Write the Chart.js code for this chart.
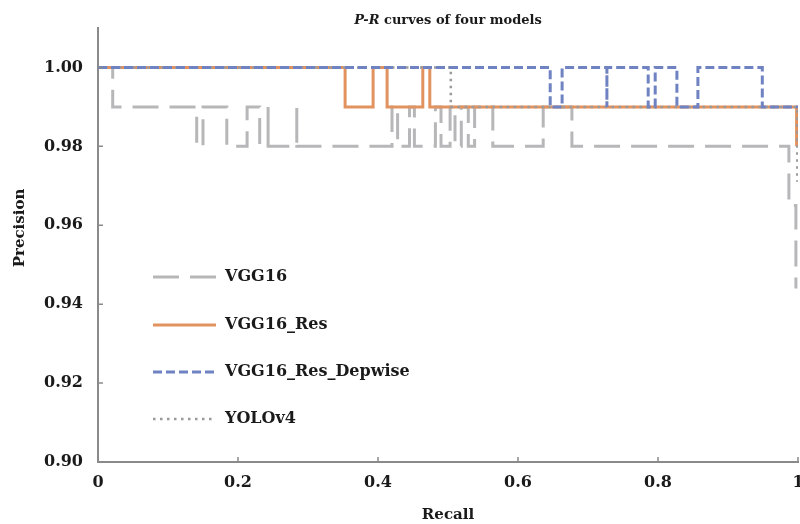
<!DOCTYPE html>
<html>
<head>
<meta charset="utf-8">
<script src="https://cdn.jsdelivr.net/npm/chart.js@4"></script>
<style>
  html, body { margin: 0; padding: 0; background: #fff; }
  #wrap { width: 800px; height: 524px; }
</style>
</head>
<body>
<div id="wrap"><canvas id="myChart" width="800" height="524"></canvas></div>
<script>
// P-R step curves (recall, precision corner points)
const vggRecall = [0, 0.021, 0.021, 0.141, 0.141, 0.150, 0.150, 0.184, 0.184, 0.213, 0.213, 0.231, 0.231, 0.243, 0.243, 0.243,
  0.284, 0.284, 0.284, 0.420, 0.420, 0.428, 0.428, 0.445, 0.445, 0.452, 0.452, 0.482, 0.482, 0.490, 0.490,
  0.503, 0.503, 0.510, 0.510, 0.519, 0.519, 0.529, 0.529, 0.538, 0.538, 0.564, 0.564, 0.636, 0.636, 0.677, 0.677,
  0.987, 0.987, 0.997, 0.997]
const vggPrec = [1.00, 1.00, 0.99, 0.99, 0.98, 0.98, 0.99, 0.99, 0.98, 0.98, 0.99, 0.99, 0.98, 0.98, 0.99, 0.98,
  0.98, 0.99, 0.98, 0.98, 0.99, 0.99, 0.98, 0.98, 0.99, 0.99, 0.98, 0.98, 0.99, 0.99, 0.98,
  0.98, 0.99, 0.99, 0.98, 0.98, 0.99, 0.99, 0.98, 0.98, 0.99, 0.99, 0.98, 0.98, 0.99, 0.99, 0.98,
  0.98, 0.965, 0.965, 0.944]

const resRecall = [0, 0.353, 0.353, 0.393, 0.393, 0.413, 0.413, 0.464, 0.464, 0.474, 0.474, 0.998, 0.998]
const resPrec = [1.00, 1.00, 0.99, 0.99, 1.00, 1.00, 0.99, 0.99, 1.00, 1.00, 0.99, 0.99, 0.98]

const depRecall = [0, 0.646, 0.646, 0.663, 0.663, 0.727, 0.727, 0.727, 0.786, 0.786, 0.796, 0.796, 0.827, 0.827, 0.857, 0.857, 0.949, 0.949, 1.0]
const depPrec = [1.00, 1.00, 0.99, 0.99, 1.00, 1.00, 0.99, 1.00, 1.00, 0.99, 0.99, 1.00, 1.00, 0.99, 0.99, 1.00, 1.00, 0.99, 0.99]

const yoloRecall = [0, 0.504, 0.504, 0.999, 0.999]
const yoloPrec = [1.00, 1.00, 0.99, 0.99, 0.971]

const modelNames = ['VGG16', 'VGG16_Res', 'VGG16_Res_Depwise', 'YOLOv4']
const xTicks = [0, 0.2, 0.4, 0.6, 0.8, 1]
const yTicks = [0.90, 0.92, 0.94, 0.96, 0.98, 1.00]

const FONT = '"DejaVu Serif", serif'

const toPoints = (xs, ys) => xs.map((x, i) => ({ x: x, y: ys[i] }))

const dataConfig = {
  datasets: [{
    label: modelNames[0],
    data: toPoints(vggRecall, vggPrec),
    borderColor: '#b7b7b9',
    borderWidth: 3,
    borderDash: [26, 11],
    order: 4
  }, {
    label: modelNames[1],
    data: toPoints(resRecall, resPrec),
    borderColor: '#e2925f',
    borderWidth: 3,
    order: 3
  }, {
    label: modelNames[2],
    data: toPoints(depRecall, depPrec),
    borderColor: '#6f82c1',
    borderWidth: 3,
    borderDash: [9, 4],
    order: 1
  }, {
    label: modelNames[3],
    data: toPoints(yoloRecall, yoloPrec),
    borderColor: '#9a9a9c',
    borderWidth: 2.5,
    borderDash: [2.5, 4.5],
    order: 2
  }]
}

// title, y title, legend and inner tick marks
const decorations = {
  id: 'decorations',
  afterDraw(chart) {
    const ctx = chart.ctx
    const area = chart.chartArea
    const sx = chart.scales.x
    const sy = chart.scales.y
    ctx.save()

    // inward tick marks
    ctx.strokeStyle = '#8a8a8a'
    ctx.lineWidth = 1.5
    ctx.beginPath()
    xTicks.forEach(v => {
      const px = sx.getPixelForValue(v)
      ctx.moveTo(px, area.bottom)
      ctx.lineTo(px, area.bottom - 5)
    })
    yTicks.forEach(v => {
      const py = sy.getPixelForValue(v)
      ctx.moveTo(area.left, py)
      ctx.lineTo(area.left + 5, py)
    })
    ctx.stroke()

    ctx.fillStyle = '#1a1a1a'
    ctx.textBaseline = 'middle'

    // chart title, with italic P-R
    const cx = (area.left + area.right) / 2
    const part1 = 'P-R'
    const part2 = ' curves of four models'
    ctx.font = 'italic bold 13px ' + FONT
    const w1 = ctx.measureText(part1).width
    ctx.font = 'bold 13px ' + FONT
    const w2 = ctx.measureText(part2).width
    const start = cx - (w1 + w2) / 2
    ctx.textAlign = 'left'
    ctx.font = 'italic bold 13px ' + FONT
    ctx.fillText(part1, start, 21)
    ctx.font = 'bold 13px ' + FONT
    ctx.fillText(part2, start + w1, 21)

    // y axis title
    ctx.save()
    ctx.translate(20, 228)
    ctx.rotate(-Math.PI / 2)
    ctx.textAlign = 'center'
    ctx.font = 'bold 15px ' + FONT
    ctx.fillText('Precision', 0, 0)
    ctx.restore()

    // legend inside the plot
    const rows = [277, 325, 372, 419]
    chart.data.datasets.forEach((ds, i) => {
      const y = rows[i]
      ctx.save()
      ctx.strokeStyle = ds.borderColor
      ctx.lineWidth = ds.borderWidth
      ctx.setLineDash(ds.borderDash || [])
      ctx.beginPath()
      ctx.moveTo(area.left + 55, y)
      ctx.lineTo(area.left + 118, y)
      ctx.stroke()
      ctx.restore()
      ctx.textAlign = 'left'
      ctx.font = 'bold 16px ' + FONT
      ctx.fillText(ds.label, area.left + 127, y)
    })
    ctx.restore()
  }
}

const config = {
  type: 'line',
  data: dataConfig,
  options: {
    responsive: false,
    animation: false,
    layout: { padding: { top: 28, right: 2, left: 0, bottom: 0 } },
    elements: { point: { radius: 0 }, line: { tension: 0 } },
    plugins: {
      legend: { display: false },
      tooltip: { enabled: false }
    },
    scales: {
      x: {
        type: 'linear',
        min: 0,
        max: 1,
        grid: { display: false, drawTicks: false },
        border: { color: '#8a8a8a', width: 2 },
        afterBuildTicks: (scale) => { scale.ticks = xTicks.map(v => ({ value: v })) },
        afterFit: (scale) => { scale.height = 62; scale.paddingRight = 0; scale.paddingLeft = 0 },
        ticks: {
          color: '#1a1a1a',
          padding: 11,
          maxRotation: 0,
          font: { family: FONT, size: 16, weight: 'bold' },
          callback: (v) => String(v)
        },
        title: {
          display: true,
          text: 'Recall',
          color: '#1a1a1a',
          padding: { top: 0, bottom: 0 },
          font: { family: FONT, size: 15, weight: 'bold' }
        }
      },
      y: {
        min: 0.9,
        max: 1.01,
        grid: { display: false, drawTicks: false },
        border: { color: '#8a8a8a', width: 2 },
        afterBuildTicks: (scale) => { scale.ticks = yTicks.map(v => ({ value: v })) },
        afterFit: (scale) => { scale.width = 98 },
        ticks: {
          color: '#1a1a1a',
          padding: 15,
          font: { family: FONT, size: 16, weight: 'bold' },
          callback: (v) => v.toFixed(2)
        }
      }
    }
  },
  plugins: [decorations]
}

const myChart = new Chart(document.getElementById('myChart'), config)
</script>
</body>
</html>
